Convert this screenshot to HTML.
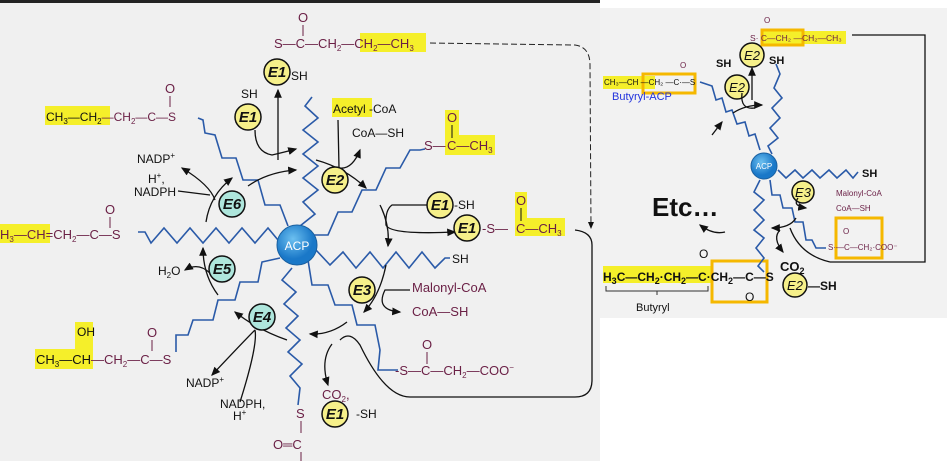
<!DOCTYPE html>
<html><head><meta charset="utf-8"><style>
html,body{margin:0;padding:0;background:#fff;}
svg{display:block;font-family:"Liberation Sans",sans-serif;}
.m{fill:#6a1f45;font-size:13px;}
.k{fill:#111;font-size:12px;}
.ch{fill:none;stroke:#2a5aa8;stroke-width:1.6;}
.ar{fill:none;stroke:#111;stroke-width:1.3;}
.e{stroke:#111;stroke-width:1.5;}
.et{font-size:15px;font-weight:bold;font-style:italic;fill:#111;text-anchor:middle;}
</style></head><body>
<svg width="947" height="461" viewBox="0 0 947 461">
<defs><marker id="a" markerWidth="8" markerHeight="8" refX="6" refY="4" orient="auto"><path d="M0,1 L7,4 L0,7z" fill="#111"/></marker>
<radialGradient id="g" cx="40%" cy="35%"><stop offset="0" stop-color="#6cc0f0"/><stop offset="1" stop-color="#1a78c8"/></radialGradient></defs>
<rect x="0" y="0" width="600" height="461" fill="#f0f0f0"/>
<rect x="0" y="0" width="600" height="3" fill="#222"/>
<rect x="600" y="8" width="347" height="310" fill="#f2f2f2"/>

<!-- highlights left -->
<g fill="#f5ef2a">
<rect x="360" y="33" width="66" height="19"/>
<rect x="45" y="106" width="65" height="19"/>
<rect x="332" y="98" width="40" height="19"/>
<rect x="445" y="135" width="50" height="20"/>
<rect x="445" y="110" width="14" height="25"/>
<rect x="515" y="192" width="12" height="28"/>
<rect x="515" y="218" width="50" height="18"/>
<rect x="0" y="224" width="50" height="19"/>
<rect x="35" y="349" width="58" height="20"/>
<rect x="75" y="322" width="18" height="27"/>
</g>

<!-- chains -->
<polyline class="ch" points="300,226 315,214 303,202 318,190 303,178 318,166 303,154 318,142 303,130 318,118 305,106 312,97"/>
<polyline class="ch" points="288,226 280,205 265,205 258,180 243,180 236,158 222,158 215,135 205,133 203,120 198,118"/>
<polyline class="ch" points="305,235 328,235 338,212 352,212 362,190 376,190 386,168 400,168 410,150 420,150 425,149"/>
<polyline class="ch" points="278,240 268,228 255,243 242,228 229,243 216,228 203,243 190,228 177,243 164,228 151,243 145,232 138,232"/>
<polyline class="ch" points="316,250 330,265 343,252 356,268 370,252 383,268 396,252 409,268 422,252 435,268 445,258 450,258"/>
<polyline class="ch" points="308,260 312,285 328,285 335,305 352,305 357,325 375,325 380,350 378,370 398,370"/>
<polyline class="ch" points="292,268 282,280 296,292 284,304 298,316 286,328 300,340 288,352 302,364 290,376 300,388 298,405"/>
<polyline class="ch" points="280,258 262,262 258,282 240,282 235,300 218,300 213,320 193,320 188,335 176,335 176,352"/>

<!-- ACP -->
<circle cx="297" cy="245" r="20" fill="url(#g)" stroke="#1a60a0"/>
<text x="297" y="250" font-size="12" fill="#fff" text-anchor="middle">ACP</text>

<!-- molecules left -->
<text class="m" x="274" y="48">S—C—CH<tspan font-size="8" dy="3">2</tspan><tspan dy="-3">—CH</tspan><tspan font-size="8" dy="3">2</tspan><tspan dy="-3">—CH</tspan><tspan font-size="8" dy="3">3</tspan></text>
<text class="m" x="298" y="22">O</text><line x1="303" y1="25" x2="303" y2="36" stroke="#6a1f45"/>
<path d="M430,43 L575,45 Q590,47 590,65 L591,228" stroke="#222" stroke-dasharray="6,3" fill="none" marker-end="url(#a)"/>
<text class="k" x="46" y="121" font-size="13">CH<tspan font-size="8" dy="3">3</tspan><tspan dy="-3">—CH</tspan><tspan font-size="8" dy="3">2</tspan><tspan dy="-3" fill="#6a1f45">—CH</tspan><tspan font-size="8" dy="3" fill="#6a1f45">2</tspan><tspan dy="-3" fill="#6a1f45">—C—S</tspan></text>
<text class="m" x="165" y="93">O</text><line x1="170" y1="96" x2="170" y2="107" stroke="#6a1f45"/>
<text class="k" x="333" y="113" font-size="13">Acetyl -CoA</text>
<text class="k" x="352" y="137">CoA—SH</text>
<text class="m" x="424" y="150">S—</text>
<text class="m" x="447" y="150" fill="#111">C—CH<tspan font-size="8" dy="3">3</tspan></text>
<text class="m" x="447" y="122" fill="#111">O</text><line x1="452" y1="125" x2="452" y2="138" stroke="#111"/>
<text class="k" x="137" y="163">NADP<tspan font-size="8" dy="-5">+</tspan></text>
<text class="k" x="148" y="183">H<tspan font-size="8" dy="-5">+</tspan><tspan dy="5">,</tspan></text>
<text class="k" x="134" y="196">NADPH</text>
<text class="m" x="482" y="233" fill="#111">-S—</text>
<text class="m" x="516" y="233" fill="#111">C—CH<tspan font-size="8" dy="3">3</tspan></text>
<text class="m" x="516" y="205" fill="#111">O</text><line x1="521" y1="208" x2="521" y2="221" stroke="#111"/>
<text class="m" x="0" y="239">H<tspan font-size="8" dy="3">3</tspan><tspan dy="-3">—CH=CH</tspan><tspan font-size="8" dy="3">2</tspan><tspan dy="-3">—C—S</tspan></text>
<text class="m" x="105" y="214">O</text><line x1="110" y1="217" x2="110" y2="228" stroke="#6a1f45"/>
<text class="k" x="158" y="275">H<tspan font-size="8" dy="3">2</tspan><tspan dy="-3">O</tspan></text>
<text class="k" x="452" y="263">SH</text>
<text class="m" x="412" y="292">Malonyl-CoA</text>
<text class="m" x="412" y="316">CoA—SH</text>
<text class="k" x="77" y="336">OH</text>
<text class="m" x="36" y="364"><tspan fill="#111">CH</tspan><tspan font-size="8" dy="3" fill="#111">3</tspan><tspan dy="-3" fill="#111">—CH</tspan>—CH<tspan font-size="8" dy="3">2</tspan><tspan dy="-3">—C—S</tspan></text>
<text class="m" x="147" y="337">O</text><line x1="152" y1="340" x2="152" y2="351" stroke="#6a1f45"/>
<text class="m" x="395" y="375">-S—C—CH<tspan font-size="8" dy="3">2</tspan><tspan dy="-3">—COO</tspan><tspan font-size="8" dy="-5">−</tspan></text>
<text class="m" x="422" y="349">O</text><line x1="427" y1="352" x2="427" y2="364" stroke="#6a1f45"/>
<text class="k" x="186" y="387">NADP<tspan font-size="8" dy="-5">+</tspan></text>
<text class="k" x="220" y="408">NADPH,</text>
<text class="k" x="233" y="420">H<tspan font-size="8" dy="-5">+</tspan></text>
<text class="m" x="322" y="399">CO<tspan font-size="8" dy="3">2</tspan><tspan dy="-3">,</tspan></text>
<text class="k" x="356" y="418">-SH</text>
<text class="m" x="296" y="418" fill="#2a5aa8">S</text>
<line x1="301" y1="421" x2="301" y2="433" stroke="#6a1f45"/>
<text class="m" x="273" y="449">O═C</text>
<line x1="301" y1="452" x2="301" y2="461" stroke="#6a1f45"/>
<path d="M340,340 Q350,330 360,345 Q385,397 410,397 L575,397 Q592,397 592,380 L592,245 Q592,232 575,230" class="ar"/>

<!-- arrows -->
<path class="ar" d="M255,130 Q255,152 272,155 Q285,152 296,149" marker-end="url(#a)"/>
<path class="ar" d="M248,186 Q268,172 296,170" marker-end="url(#a)"/>
<line class="ar" x1="278" y1="160" x2="278" y2="90" marker-end="url(#a)"/>
<path class="ar" d="M316,160 Q345,168 366,188" marker-end="url(#a)"/>
<path class="ar" d="M338,120 L339,168 Q352,170 360,150" marker-end="url(#a)"/>
<path class="ar" d="M380,205 Q390,225 388,246" marker-end="url(#a)"/>
<path class="ar" d="M427,205 L392,205 Q385,210 386,225 Q390,235 455,232" marker-end="url(#a)"/>
<path class="ar" d="M386,265 Q380,295 364,312" marker-end="url(#a)"/>
<path class="ar" d="M410,290 L385,290 Q375,310 400,312" marker-end="url(#a)"/>
<path class="ar" d="M347,322 Q330,335 310,334" marker-end="url(#a)"/>
<path class="ar" d="M332,344 Q320,360 328,385" marker-end="url(#a)"/>
<path class="ar" d="M287,340 Q258,330 235,312" marker-end="url(#a)"/>
<path class="ar" d="M255,330 Q245,340 212,375" marker-end="url(#a)"/>
<path class="ar" d="M240,402 Q258,345 255,330"/>
<path class="ar" d="M218,295 Q203,275 203,248" marker-end="url(#a)"/>
<path class="ar" d="M210,273 Q198,262 185,270" marker-end="url(#a)"/>
<path class="ar" d="M206,222 Q210,195 232,178" marker-end="url(#a)"/>
<path class="ar" d="M178,191 L210,195"/>
<path class="ar" d="M215,200 Q210,185 182,168" marker-end="url(#a)"/>

<!-- enzymes left -->
<g class="e">
<circle cx="277" cy="72" r="13" fill="#f6f08a"/><circle cx="248" cy="117" r="13" fill="#f6f08a"/>
<circle cx="335" cy="180" r="13" fill="#f6f08a"/><circle cx="440" cy="205" r="13" fill="#f6f08a"/>
<circle cx="467" cy="228" r="13" fill="#f6f08a"/><circle cx="362" cy="290" r="13" fill="#f6f08a"/>
<circle cx="335" cy="414" r="13" fill="#f6f08a"/>
<circle cx="232" cy="204" r="13" fill="#aee6dc"/><circle cx="222" cy="269" r="13" fill="#aee6dc"/>
<circle cx="262" cy="317" r="13" fill="#aee6dc"/>
</g>
<g class="et"><text x="277" y="77">E1</text><text x="248" y="122">E1</text><text x="335" y="185">E2</text><text x="440" y="210">E1</text><text x="467" y="233">E1</text><text x="362" y="295">E3</text><text x="335" y="419">E1</text><text x="232" y="209">E6</text><text x="222" y="274">E5</text><text x="262" y="322">E4</text></g>
<text class="k" x="291" y="80" fill="#2a5aa8">SH</text>
<text class="k" x="241" y="98">SH</text>
<text class="k" x="454" y="209">-SH</text>

<!-- RIGHT PANEL -->
<g fill="#f5ef2a"><rect x="762" y="31" width="84" height="13"/><rect x="603" y="76" width="52" height="13"/><rect x="603" y="266" width="108" height="17"/></g>
<g fill="none" stroke="#f5b800" stroke-width="3"><rect x="762" y="30" width="41" height="15"/><rect x="643" y="74" width="52" height="19"/><rect x="712" y="261" width="55" height="41"/><rect x="836" y="218" width="46" height="40"/></g>
<text x="750" y="41" font-size="8.5" fill="#6a1f45">S· C—CH₂ —CH₂—CH₃</text>
<text x="764" y="23" font-size="8" fill="#6a1f45">O</text>
<path d="M852,35 L925,35 L925,262 L830,262" class="ar" stroke-width="1"/>
<text x="604" y="85" font-size="8" fill="#111">CH₃—CH   —CH₂ —C·—S</text>
<text x="680" y="68" font-size="8" fill="#6a1f45">O</text>
<text x="612" y="100" font-size="11" fill="#2233dd">Butyryl-ACP</text>
<polyline class="ch" stroke-width="1.1" points="700,82 712,86 716,100 722,98 726,112 732,110 737,124 745,122 749,136 755,134 760,150"/>
<polyline class="ch" stroke-width="1.1" points="772,154 768,146 778,138 770,128 780,118 772,108 782,98 774,88 780,74 776,64"/>
<polyline class="ch" stroke-width="1.1" points="778,170 786,178 795,170 803,178 812,170 820,178 829,170 837,178 846,170 853,178 858,172"/>
<polyline class="ch" stroke-width="1.1" points="770,180 772,195 780,195 783,208 792,208 795,222 803,222 806,240 812,240 816,248 826,248"/>
<polyline class="ch" stroke-width="1.1" points="760,180 754,192 764,200 754,210 764,220 754,230 764,238 756,248 764,258 758,266 764,272"/>
<circle cx="764" cy="166" r="13" fill="url(#g)" stroke="#1a60a0"/>
<text x="764" y="169" font-size="8" fill="#fff" text-anchor="middle">ACP</text>
<g class="e" stroke-width="1"><circle cx="752" cy="55" r="12" fill="#f6f08a"/><circle cx="737" cy="87" r="12" fill="#f6f08a"/><circle cx="803" cy="192" r="11" fill="#f6f08a"/><circle cx="795" cy="285" r="12" fill="#f6f08a"/></g>
<g font-size="13" font-style="italic" fill="#111" text-anchor="middle"><text x="752" y="60">E2</text><text x="737" y="92">E2</text><text x="803" y="197">E3</text><text x="795" y="290">E2</text></g>
<text x="769" y="64" font-size="11" font-weight="bold" fill="#111">SH</text>
<text x="716" y="67" font-size="11" font-weight="bold" fill="#111">SH</text>
<text x="862" y="177" font-size="11" font-weight="bold" fill="#111">SH</text>
<text x="836" y="196" font-size="8" fill="#6a1f45">Malonyl-CoA</text>
<text x="836" y="211" font-size="8" fill="#6a1f45">CoA—SH</text>
<text x="828" y="250" font-size="8" fill="#6a1f45">S·—C—CH₂·COO⁻</text>
<text x="843" y="234" font-size="8" fill="#6a1f45">O</text>
<text x="652" y="216" font-size="26" font-weight="bold" fill="#111">Etc…</text>
<text x="603" y="281" font-size="12" font-weight="bold" fill="#111">H<tspan font-size="9" dy="3">3</tspan><tspan dy="-3">C—CH</tspan><tspan font-size="9" dy="3">2</tspan><tspan dy="-3">·CH</tspan><tspan font-size="9" dy="3">2</tspan><tspan dy="-3">—C·CH</tspan><tspan font-size="9" dy="3">2</tspan><tspan dy="-3">—C—S</tspan></text>
<text x="699" y="258" font-size="12" fill="#111">O</text>
<text x="745" y="301" font-size="12" fill="#111">O</text>
<text x="780" y="271" font-size="13" font-weight="bold" fill="#111">CO<tspan font-size="9" dy="3">2</tspan></text>
<text x="808" y="290" font-size="12" font-weight="bold" fill="#111">—SH</text>
<path d="M606,286 L606,291 L708,291 L708,286 M657,291 L657,295" stroke="#333" fill="none"/>
<text x="636" y="311" font-size="11" fill="#111">Butyryl</text>
<g stroke-width="1"><path class="ar" d="M742,93 Q740,110 755,108" /><path class="ar" d="M733,113 Q745,105 762,105" marker-end="url(#a)"/><line class="ar" x1="752" y1="100" x2="752" y2="68" marker-end="url(#a)"/><path class="ar" d="M712,135 L722,122" marker-end="url(#a)"/><path class="ar" d="M725,232 Q713,235 700,225" marker-end="url(#a)"/><path class="ar" d="M796,218 Q790,228 772,228" marker-end="url(#a)"/><path class="ar" d="M780,230 Q772,238 783,252" marker-end="url(#a)"/><path class="ar" d="M798,198 Q792,206 806,208" marker-end="url(#a)"/><path class="ar" d="M790,228 Q800,255 830,262"/></g>
</svg>
</body></html>
